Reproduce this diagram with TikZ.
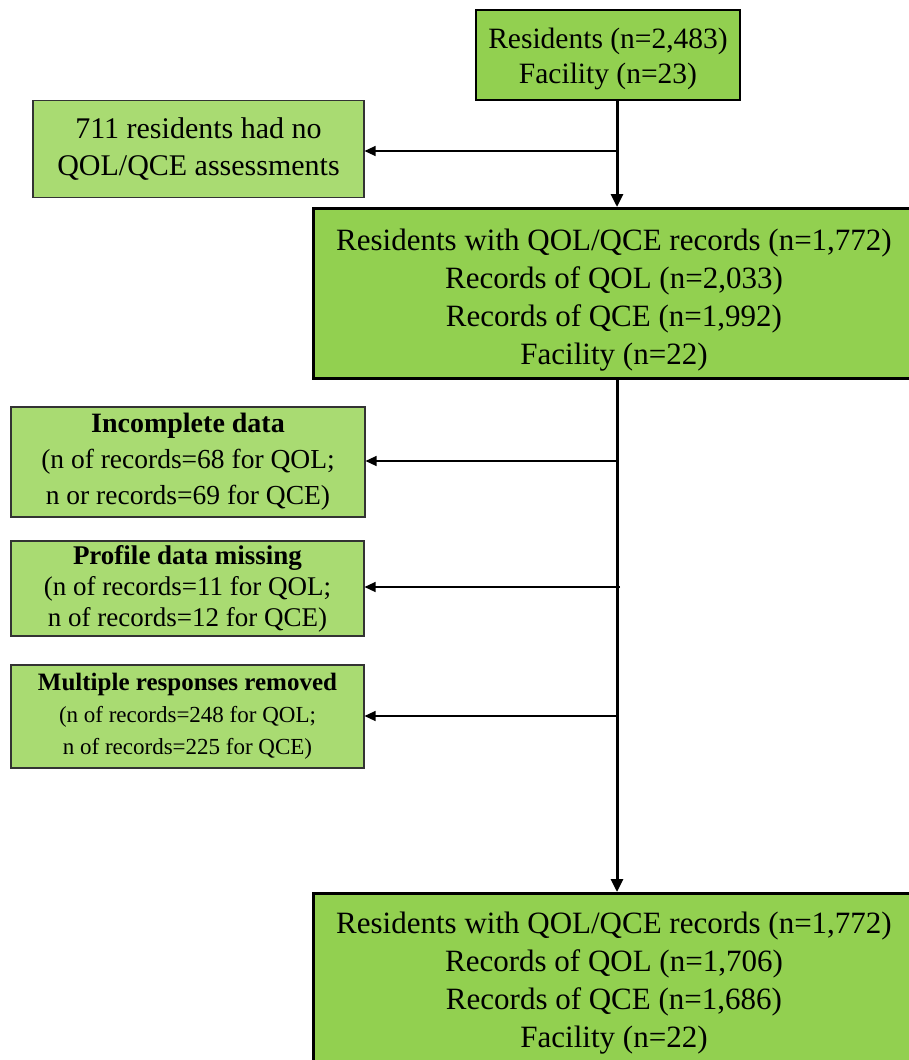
\documentclass[tikz,border=0pt]{standalone}
\usepackage{fontspec}
\setmainfont{Liberation Serif}
\usetikzlibrary{arrows.meta}
\definecolor{maingreen}{RGB}{146,208,80}
\definecolor{sidegreen}{RGB}{169,219,114}
\begin{document}
\begin{tikzpicture}[x=1pt,y=-1pt,
  mainbox/.style={draw=black,line width=2.6pt,fill=maingreen,align=center,inner sep=0pt},
  maintext/.style={align=center,inner sep=0pt,font=\fontsize{31}{38}\selectfont},
  sidebox/.style={draw=black!80,line width=1.1pt,fill=sidegreen,align=center,inner sep=0pt},
  trunk/.style={line width=3pt,-{Triangle[length=13pt,width=12pt]}},
  branch/.style={line width=1.3pt,-{Triangle[length=11pt,width=10pt]}}]
\useasboundingbox (0,0) rectangle (909,1060);
\clip (0,0) rectangle (909,1060);
% main boxes
\node[mainbox,minimum width=264,minimum height=90] (b1) at (608,55) {};
\node[align=center,inner sep=0pt,font=\fontsize{29.5}{35}\selectfont] (b1t) at (608,59)
  {Residents (n=2,483)\\Facility (n=23)};
\node[mainbox,minimum width=600,minimum height=170,anchor=north west] (b2) at (312,207) {};
\node[maintext] (b2t) at (614,300)
  {Residents with QOL/QCE records (n=1,772)\\Records of QOL (n=2,033)\\Records of QCE (n=1,992)\\Facility (n=22)};
\node[mainbox,minimum width=600,minimum height=180,anchor=north west] (b4) at (312,892) {};
\node[maintext] (b4t) at (614,983)
  {Residents with QOL/QCE records (n=1,772)\\Records of QOL (n=1,706)\\Records of QCE (n=1,686)\\Facility (n=22)};
% side boxes
\node[sidebox,minimum width=331,minimum height=97,font=\fontsize{30}{37}\selectfont] (s1) at (198.5,149)
  {711 residents had no\\QOL/QCE assessments};
\node[sidebox,minimum width=354,minimum height=110,font=\fontsize{27.5}{36}\selectfont] (s2) at (188,462)
  {{\fontsize{28}{36}\selectfont\textbf{Incomplete data}}\\(n of records=68 for QOL;\\n or records=69 for QCE)};
\node[sidebox,minimum width=353,minimum height=95,font=\fontsize{27}{31}\selectfont] (s3) at (187.5,588.5)
  {\textbf{Profile data missing}\\(n of records=11 for QOL;\\n of records=12 for QCE)};
\node[sidebox,minimum width=353,minimum height=103,font=\fontsize{23}{32}\selectfont] (s4) at (187.5,716.5)
  {{\fontsize{25}{32}\selectfont\textbf{Multiple responses removed}}\\(n of records=248 for QOL;\\n of records=225 for QCE)};
% junction coordinates on trunk
\coordinate (j1) at (617,151);
\coordinate (j2) at (617,461);
\coordinate (j3) at (620,587);
\coordinate (j4) at (617,716);
% connectors
\draw[trunk] (b1.south -| j1) -- (b2.north -| j1);
\draw[trunk] (b2.south -| j1) -- (b4.north -| j1);
\draw[branch] (j1) -- (s1.east |- j1);
\draw[branch] (j2) -- (s2.east |- j2);
\draw[branch] (j3) -- (s3.east |- j3);
\draw[branch] (j4) -- (s4.east |- j4);
\end{tikzpicture}
\end{document}
